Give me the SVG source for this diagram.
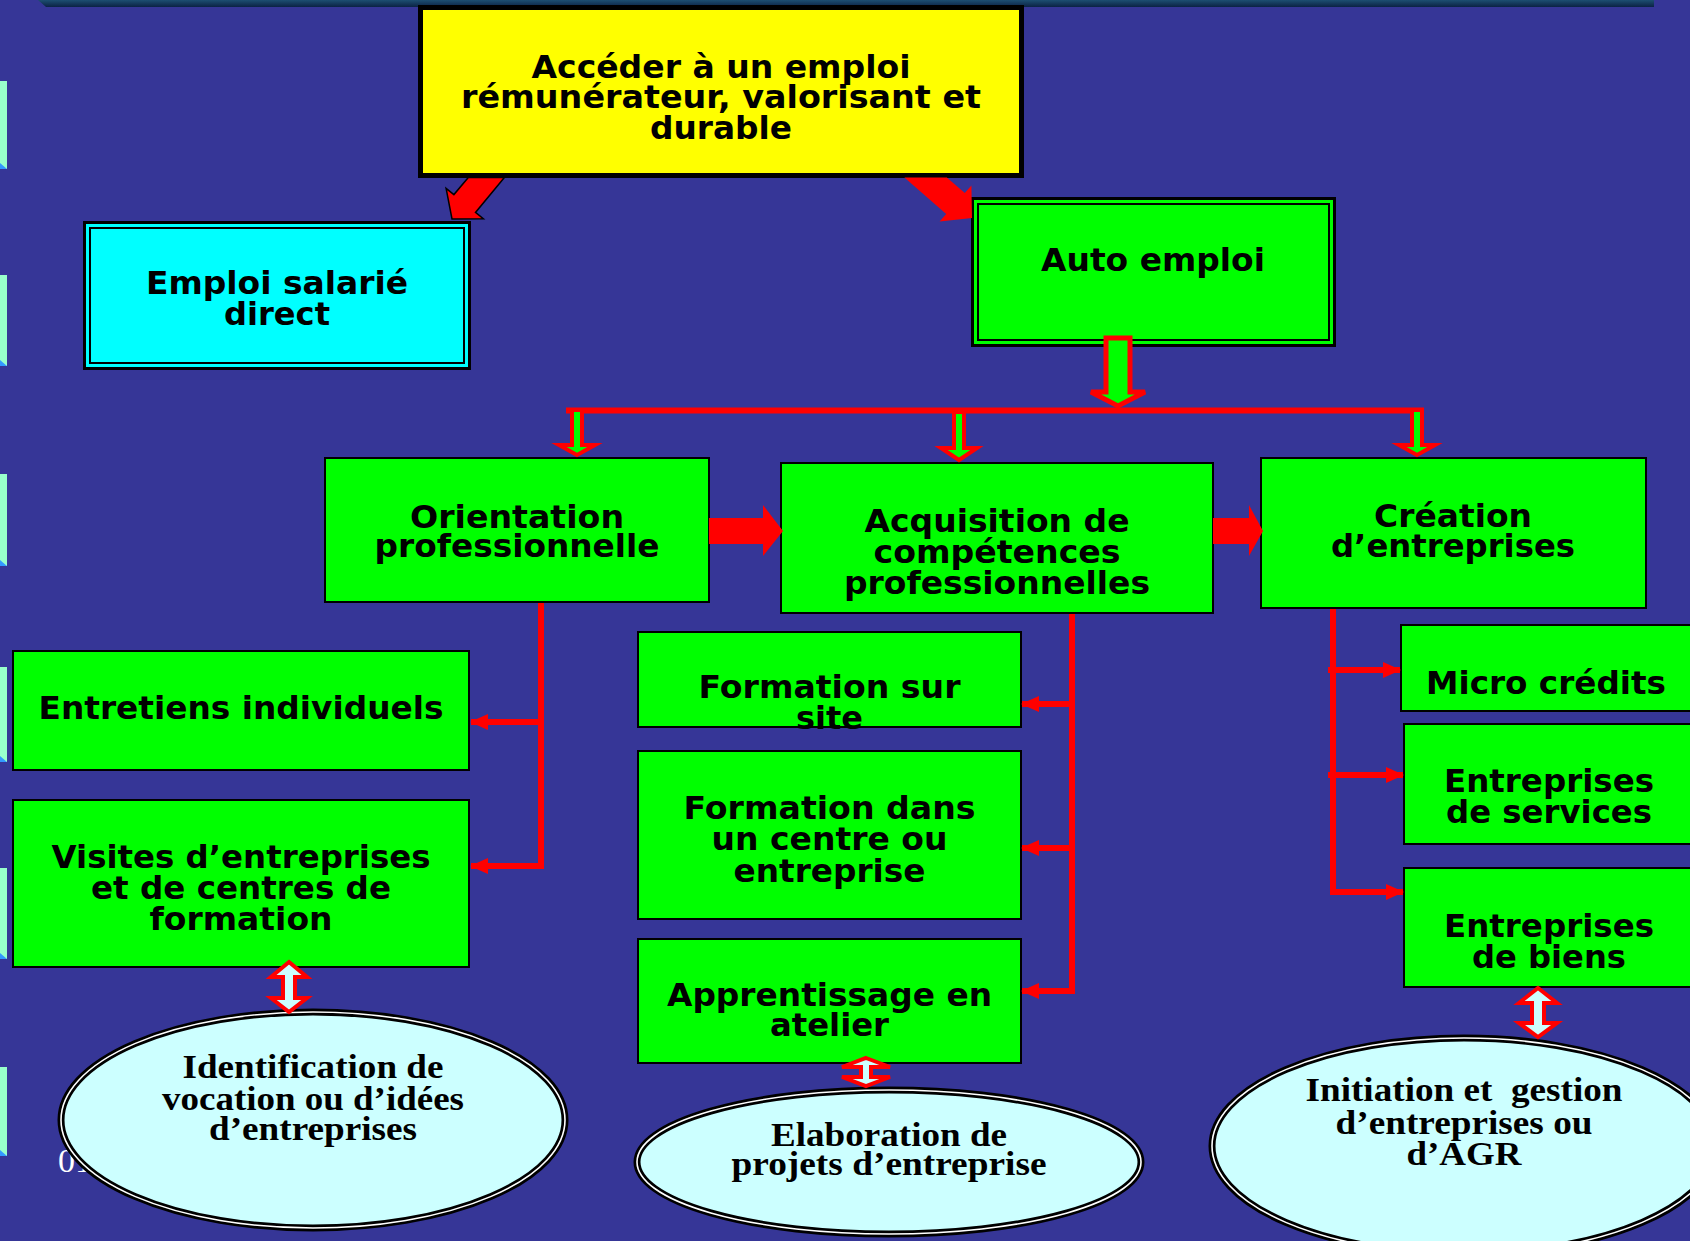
<svg xmlns="http://www.w3.org/2000/svg" width="1690" height="1241" viewBox="0 0 1690 1241">
<defs>
<style>
.bg{fill:#363697}
.box{fill:#00ff00;stroke:#000;stroke-width:2}
.t{font-family:"DejaVu Sans","Liberation Sans",sans-serif;font-weight:bold;font-size:32px;fill:#000;text-anchor:middle}
.s{font-family:"Liberation Serif","DejaVu Serif",serif;font-weight:bold;font-size:34px;fill:#000;text-anchor:middle}
.ell{fill:#ccffff;stroke:#000;stroke-width:7}
.ell2{fill:none;stroke:#ffffff;stroke-width:1.6}
.line{fill:none;stroke:#ff0000;stroke-width:6}
.hollow{fill:#00ff00;stroke:#ff0000;stroke-width:4;stroke-linejoin:miter}
.dbl{fill:#ccffff;stroke:#ff0000;stroke-width:4}
.tile{fill:#99ffcc}
.tileb{fill:#3399ff}
</style>
<linearGradient id="bar" x1="0" y1="0" x2="0" y2="1">
<stop offset="0" stop-color="#1d4f72"/>
<stop offset="1" stop-color="#0b2244"/>
</linearGradient>
<marker id="ah" markerUnits="userSpaceOnUse" markerWidth="18" markerHeight="18" refX="17" refY="9" orient="auto">
<path d="M0,1 L18,9 L0,17 z" fill="#ff0000"/>
</marker>
</defs>
<rect class="bg" x="0" y="0" width="1690" height="1241"/>
<polygon points="38,0 1654,0 1654,7 46,7" fill="url(#bar)"/>
<g id="tiles">
<rect class="tile" x="0" y="81" width="7" height="88"/><polygon class="tileb" points="0,163 7,169 0,169"/>
<rect class="tile" x="0" y="275" width="7" height="91"/><polygon class="tileb" points="0,360 7,366 0,366"/>
<rect class="tile" x="0" y="474" width="7" height="92"/><polygon class="tileb" points="0,560 7,566 0,566"/>
<rect class="tile" x="0" y="667" width="7" height="95"/><polygon class="tileb" points="0,756 7,762 0,762"/>
<rect class="tile" x="0" y="868" width="7" height="91"/><polygon class="tileb" points="0,953 7,959 0,959"/>
<rect class="tile" x="0" y="1067" width="7" height="89"/><polygon class="tileb" points="0,1150 7,1156 0,1156"/>
</g>
<text x="58" y="1172" font-family="Liberation Serif, serif" font-size="34" fill="#ffffff">01</text>

<g id="n-top">
<rect x="420.5" y="7.5" width="601" height="168" fill="#ffff00" stroke="#000" stroke-width="5"/>
<text class="t" x="721" y="78" font-size="33" textLength="379" lengthAdjust="spacingAndGlyphs">Accéder à un emploi</text>
<text class="t" x="721" y="108" font-size="33" textLength="520" lengthAdjust="spacingAndGlyphs">rémunérateur, valorisant et</text>
<text class="t" x="721" y="139" font-size="33" textLength="142" lengthAdjust="spacingAndGlyphs">durable</text>
</g>
<g id="n-salarie">
<rect x="84.5" y="222.5" width="385" height="146" fill="#00ffff" stroke="#000" stroke-width="3"/>
<rect x="90" y="228" width="374" height="135" fill="none" stroke="#000" stroke-width="2"/>
<text class="t" x="277" y="294" font-size="33" textLength="262" lengthAdjust="spacingAndGlyphs">Emploi salarié</text>
<text class="t" x="277" y="325" font-size="33" textLength="106" lengthAdjust="spacingAndGlyphs">direct</text>
</g>
<g id="n-auto">
<rect x="972.5" y="198.5" width="362" height="147" fill="#00ff00" stroke="#000" stroke-width="3"/>
<rect x="978" y="204" width="351" height="136" fill="none" stroke="#000" stroke-width="2"/>
<text class="t" x="1153" y="271" font-size="33" textLength="224" lengthAdjust="spacingAndGlyphs">Auto emploi</text>
</g>
<g id="n-orientation">
<rect class="box" x="325" y="458" width="384" height="144"/>
<text class="t" x="517" y="528" font-size="33" textLength="214" lengthAdjust="spacingAndGlyphs">Orientation</text>
<text class="t" x="517" y="557" font-size="33" textLength="285" lengthAdjust="spacingAndGlyphs">professionnelle</text>
</g>
<g id="n-acquisition">
<rect class="box" x="781" y="463" width="432" height="150"/>
<text class="t" x="997" y="532" font-size="33" textLength="265" lengthAdjust="spacingAndGlyphs">Acquisition de</text>
<text class="t" x="997" y="563" font-size="33" textLength="247" lengthAdjust="spacingAndGlyphs">compétences</text>
<text class="t" x="997" y="594" font-size="33" textLength="306" lengthAdjust="spacingAndGlyphs">professionnelles</text>
</g>
<g id="n-creation">
<rect class="box" x="1261" y="458" width="385" height="150"/>
<text class="t" x="1453" y="527" font-size="33" textLength="158" lengthAdjust="spacingAndGlyphs">Création</text>
<text class="t" x="1453" y="557" font-size="33" textLength="244" lengthAdjust="spacingAndGlyphs">d’entreprises</text>
</g>
<g id="n-entretiens">
<rect class="box" x="13" y="651" width="456" height="119"/>
<text class="t" x="241" y="719" textLength="405" lengthAdjust="spacingAndGlyphs">Entretiens individuels</text>
</g>
<g id="n-visites">
<rect class="box" x="13" y="800" width="456" height="167"/>
<text class="t" x="241" y="868" textLength="379" lengthAdjust="spacingAndGlyphs">Visites d’entreprises</text>
<text class="t" x="241" y="899" textLength="300" lengthAdjust="spacingAndGlyphs">et de centres de</text>
<text class="t" x="241" y="930" textLength="183" lengthAdjust="spacingAndGlyphs">formation</text>
</g>
<g id="n-site">
<rect class="box" x="638" y="632" width="383" height="95"/>
<text class="t" x="829.5" y="698" textLength="262" lengthAdjust="spacingAndGlyphs">Formation sur</text>
<text class="t" x="829.5" y="729" textLength="67" lengthAdjust="spacingAndGlyphs">site</text>
</g>
<g id="n-centre">
<rect class="box" x="638" y="751" width="383" height="168"/>
<text class="t" x="829.5" y="819" textLength="292" lengthAdjust="spacingAndGlyphs">Formation dans</text>
<text class="t" x="829.5" y="850" textLength="236" lengthAdjust="spacingAndGlyphs">un centre ou</text>
<text class="t" x="829.5" y="882" textLength="192" lengthAdjust="spacingAndGlyphs">entreprise</text>
</g>
<g id="n-apprentissage">
<rect class="box" x="638" y="939" width="383" height="124"/>
<text class="t" x="829.5" y="1006" textLength="325" lengthAdjust="spacingAndGlyphs">Apprentissage en</text>
<text class="t" x="829.5" y="1036" textLength="119" lengthAdjust="spacingAndGlyphs">atelier</text>
</g>
<g id="n-micro">
<rect class="box" x="1401" y="625" width="294" height="86"/>
<text class="t" x="1546" y="694" textLength="240" lengthAdjust="spacingAndGlyphs">Micro crédits</text>
</g>
<g id="n-services">
<rect class="box" x="1404" y="724" width="291" height="120"/>
<text class="t" x="1549" y="792" textLength="210" lengthAdjust="spacingAndGlyphs">Entreprises</text>
<text class="t" x="1549" y="823" textLength="206" lengthAdjust="spacingAndGlyphs">de services</text>
</g>
<g id="n-biens">
<rect class="box" x="1404" y="868" width="291" height="119"/>
<text class="t" x="1549" y="937" textLength="210" lengthAdjust="spacingAndGlyphs">Entreprises</text>
<text class="t" x="1549" y="968" textLength="154" lengthAdjust="spacingAndGlyphs">de biens</text>
</g>
<g id="n-identification">
<ellipse class="ell" cx="313" cy="1120" rx="252" ry="108"/>
<ellipse class="ell2" cx="313" cy="1120" rx="252" ry="108"/>
<text class="s" x="313" y="1078" textLength="261" lengthAdjust="spacingAndGlyphs">Identification de</text>
<text class="s" x="313" y="1110" textLength="302" lengthAdjust="spacingAndGlyphs">vocation ou d’idées</text>
<text class="s" x="313" y="1140" textLength="208" lengthAdjust="spacingAndGlyphs">d’entreprises</text>
</g>
<g id="n-elaboration">
<ellipse class="ell" cx="889" cy="1162" rx="252" ry="72"/>
<ellipse class="ell2" cx="889" cy="1162" rx="252" ry="72"/>
<text class="s" x="889" y="1146" textLength="236" lengthAdjust="spacingAndGlyphs">Elaboration de</text>
<text class="s" x="889" y="1175" textLength="315" lengthAdjust="spacingAndGlyphs">projets d’entreprise</text>
</g>
<g id="n-initiation">
<ellipse class="ell" cx="1464" cy="1146" rx="252" ry="108"/>
<ellipse class="ell2" cx="1464" cy="1146" rx="252" ry="108"/>
<text class="s" x="1464" y="1101" textLength="317" lengthAdjust="spacingAndGlyphs" xml:space="preserve">Initiation et  gestion</text>
<text class="s" x="1464" y="1134" textLength="257" lengthAdjust="spacingAndGlyphs">d’entreprises ou</text>
<text class="s" x="1464" y="1165" textLength="115" lengthAdjust="spacingAndGlyphs">d’AGR</text>
</g>

<g id="connectors">
<polygon points="468.3,177.5 504.4,177.5 475.5,212.4 483.3,218.7 452,219 446.1,188.3 453.9,194.6" fill="#ff0000" stroke="#000" stroke-width="1.5"/>
<polygon points="946.8,177.5 964.8,192.9 971.4,185.4 972,218 939.6,221.4 946.2,213.9 904.4,177.5" fill="#ff0000"/>
<polygon class="hollow" points="1106,338 1130,338 1130,392 1145,392 1118,406 1091,392 1106,392" style="stroke-width:5"/>
<line class="line" x1="566" y1="410.5" x2="1424" y2="410.5"/>
<polygon class="hollow" points="572,410 582,410 582,445 595,445 577,455 559,445 572,445"/>
<polygon class="hollow" points="954,412 964,412 964,448 977,448 959,460 941,448 954,448"/>
<polygon class="hollow" points="1412,410 1422,410 1422,445 1435,445 1417,455 1399,445 1412,445"/>
<polygon points="709,518 763,518 763,505 783,531 763,556 763,544 709,544" fill="#ff0000"/>
<polygon points="1213,518 1249,518 1249,505 1263,531 1249,556 1249,544 1213,544" fill="#ff0000"/>
<path class="line" d="M541,603 V866 H471" marker-end="url(#ah)"/>
<path class="line" d="M541,722 H471" marker-end="url(#ah)"/>
<path class="line" d="M1072,614 V989"/>
<path class="line" d="M1072,704 H1022" marker-end="url(#ah)"/>
<path class="line" d="M1072,848 H1022" marker-end="url(#ah)"/>
<path class="line" d="M1075,991 H1022" marker-end="url(#ah)"/>
<path class="line" d="M1333,609 V892 H1403" marker-end="url(#ah)"/>
<path class="line" d="M1328,670 H1400" marker-end="url(#ah)"/>
<path class="line" d="M1328,775 H1403" marker-end="url(#ah)"/>
<polygon class="dbl" points="289,962 307,977 295,977 295,998 307,998 289,1012 271,998 283,998 283,977 271,977"/>
<polygon class="dbl" points="866,1058 890,1067 871,1067 871,1077 890,1077 866,1086 842,1077 861,1077 861,1067 842,1067"/>
<polygon class="dbl" points="1538,988 1557,1003 1544,1003 1544,1023 1557,1023 1538,1037 1519,1023 1532,1023 1532,1003 1519,1003"/>
</g>
</svg>
